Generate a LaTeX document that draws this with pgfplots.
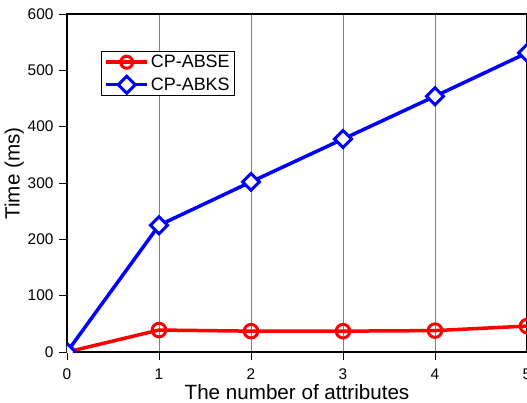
\documentclass[border=0pt]{standalone}
\usepackage{pgfplots}
\pgfplotsset{compat=1.18}
\usepackage{fontspec}
\setmainfont{Liberation Sans}
\begin{document}
\begin{tikzpicture}[trim axis right]
\begin{axis}[
  scale only axis,
  width=460bp, height=338bp,
  xmin=0, xmax=5, ymin=0, ymax=600,
  xtick={0,1,2,3,4,5},
  ytick={0,100,200,300,400,500,600},
  xtick pos=bottom, ytick pos=left,
  tick align=outside,
  major tick length=8bp,
  tick style={black, line width=1pt},
  axis line style={black, line width=1.3pt},
  xmajorgrids=true,
  grid style={gray, line width=0.7pt},
  /pgf/number format/assume math mode=true,
  ticklabel style={font=\fontsize{15.5}{17}\selectfont},
  xticklabel style={yshift=-5bp},
  yticklabel style={xshift=-2bp},
  xlabel={The number of attributes},
  ylabel={Time (ms)},
  label style={font=\fontsize{20.7}{22}\selectfont},
  xlabel style={yshift=2bp},
  ylabel style={yshift=-3bp, xshift=9.5bp},
  clip marker paths=true,
  legend style={at={(0.074,0.891)}, anchor=north west, draw=black, line width=0.8pt,
    font=\fontsize{18}{20}\selectfont, inner xsep=3bp, inner ysep=2bp, row sep=4.5bp,
    legend cell align=left},
  legend image code/.code={
    \draw[mark repeat=2,mark phase=2,mark size=6bp,#1] plot coordinates {(0bp,0bp) (20.5bp,0bp) (41bp,0bp)};
  },
]
\addplot[draw=red, line width=3.5bp, mark=o, mark size=6.8bp, mark options={draw=red, fill=white, line width=3bp}]
  coordinates {(0,0) (1,39) (2,37) (3,37) (4,38) (5,46)};
\addlegendentry{CP-ABSE}
\addplot[draw=blue, line width=3.5bp, mark=square*, mark size=6bp, mark options={draw=blue, fill=white, line width=3bp, rotate=45}]
  coordinates {(0,0) (1,225) (2,302) (3,378) (4,454) (5,531)};
\addlegendentry{CP-ABKS}
\end{axis}
\path (current axis.north west) ++(-67bp,14bp);
\path (current axis.south west) ++(0,-48bp);
\end{tikzpicture}
\end{document}
